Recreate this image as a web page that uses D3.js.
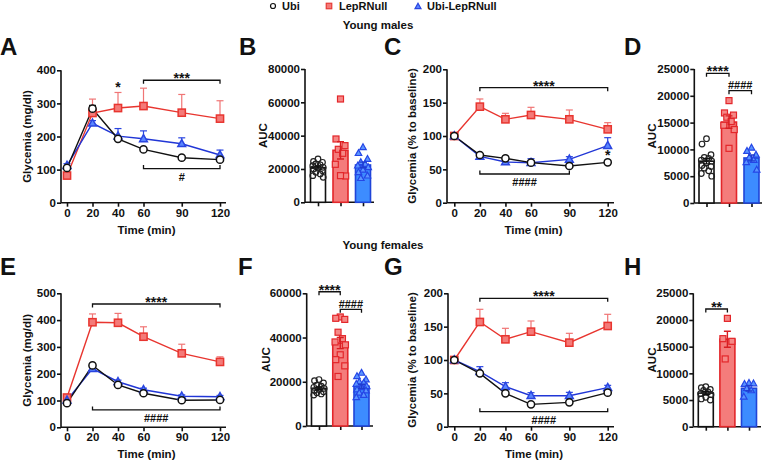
<!DOCTYPE html>
<html><head><meta charset="utf-8">
<script src="https://cdn.jsdelivr.net/npm/d3@7"></script>
<style>
body{margin:0;background:#fff}
svg text{font-family:"Liberation Sans",Arial,sans-serif;font-weight:bold;fill:#111}
</style>
</head><body>
<svg id="chart" width="764" height="461"></svg>
<script>
// ---------------- DATA ----------------
const timesMin = [0, 20, 40, 60, 90, 120];
const groupNames = ["Ubi", "LepRNull", "Ubi-LepRNull"];

// A: Young males, glycemia (mg/dl)
const A_ubi = [105, 284, 193, 161, 136, 130];
const A_ubi_sem = [4, 10, 5, 4, 4, 5];
const A_lep = [82, 271, 286, 292, 272, 254];
const A_lep_sem = [6, 42, 47, 54, 55, 54];
const A_ul = [112, 240, 201, 193, 178, 144];
const A_ul_sem = [6, 8, 23, 24, 18, 15];
const A_ticks = [0, 100, 200, 300, 400];

// B: Young males, AUC
const B_mean = [20800, 31200, 22400];
const B_sem = [900, 5200, 1700];
const B_ubi_pts = [26000, 24500, 24000, 23000, 22500, 22000, 21000, 20500, 20000, 19000, 18000, 17000, 16000, 15000];
const B_lep_pts = [62000, 38000, 34000, 31800, 29400, 22800, 15800, 16000];
const B_ul_pts = [33000, 29500, 26000, 24000, 23000, 22000, 21000, 19500, 18000, 16000, 14500];
const B_ticks = [0, 20000, 40000, 60000, 80000];

// C: Young males, glycemia (% to baseline)
const C_ubi = [100, 71.5, 66.5, 60, 55, 60.5];
const C_ubi_sem = [1, 2, 3, 3, 3, 3];
const C_lep = [100, 144, 125, 131.5, 125, 110];
const C_lep_sem = [1, 11.5, 9, 11.5, 14, 10];
const C_ul = [100, 69.5, 61, 60, 65, 85.5];
const C_ul_sem = [1, 2, 2, 6, 4, 12];
const C_ticks = [0, 50, 100, 150, 200];

// D: Young males, AUC (% to baseline)
const D_mean = [7800, 15100, 8400];
const D_sem = [500, 1150, 550];
const D_ubi_pts = [12000, 11000, 9000, 8500, 8300, 8000, 7800, 7500, 7000, 6800, 6500, 6000, 5500, 5000];
const D_lep_pts = [19100, 16800, 16400, 16000, 15200, 14500, 13700, 10200];
const D_ul_pts = [10300, 9700, 9000, 8500, 8000, 7600, 6200];
const D_ticks = [0, 5000, 10000, 15000, 20000, 25000];

// E: Young females, glycemia (mg/dl)
const E_ubi = [90, 231, 158, 127, 101, 102];
const E_ubi_sem = [3, 5, 4, 4, 3, 3];
const E_lep = [111, 392, 390, 338, 276, 244];
const E_lep_sem = [6, 31, 35, 37, 34, 19];
const E_ul = [101, 219, 170, 140, 116, 114];
const E_ul_sem = [3, 8, 6, 6, 5, 5];
const E_ticks = [0, 100, 200, 300, 400, 500];

// F: Young females, AUC
const F_mean = [17000, 37500, 18000];
const F_sem = [600, 2500, 900];
const F_ubi_pts = [21000, 20500, 19500, 18500, 18000, 17500, 17000, 16500, 16000, 15500, 15000, 14500, 14000];
const F_lep_pts = [49300, 48700, 48200, 42400, 39500, 38000, 36700, 32200, 30000, 27200, 22400];
const F_ul_pts = [24000, 22500, 21000, 20000, 19500, 19000, 18000, 17500, 16500, 16000, 15000, 14000, 13000];
const F_ticks = [0, 20000, 40000, 60000];

// G: Young females, glycemia (% to baseline)
const G_ubi = [100, 80, 50, 33.5, 36.5, 51];
const G_ubi_sem = [1, 2, 2, 2, 2, 3];
const G_lep = [100, 157, 131, 142.5, 126, 151];
const G_lep_sem = [1, 19, 16.5, 16, 14, 17.5];
const G_ul = [100, 82.5, 60, 46.5, 46.5, 58.5];
const G_ul_sem = [1, 7.5, 6, 4.5, 5, 3.5];
const G_ticks = [0, 50, 100, 150, 200];

// H: Young females, AUC (% to baseline)
const H_mean = [6300, 16400, 7200];
const H_sem = [300, 1500, 500];
const H_ubi_pts = [7500, 7300, 7000, 6800, 6500, 6200, 6000, 5500, 5200, 5000];
const H_lep_pts = [20300, 16500, 16000, 12700];
const H_ul_pts = [8200, 8000, 8100, 7200, 6800, 5600];
const H_ticks = [0, 5000, 10000, 15000, 20000, 25000];

// ---------------- STYLE ----------------
const svg = d3.select("#chart");
const ST = {
  ubi: {type: "circle", line: "#111", mFill: "#fff", mStroke: "#111", err: "#111",
        bFill: "#fff", bStroke: "#111", pFill: "none", pStroke: "#222", eb: "#111"},
  lep: {type: "square", line: "#e8352f", mFill: "#f47a78", mStroke: "#e8352f", err: "#f07575",
        bFill: "#f47c7b", bStroke: "#e3262a", pFill: "#f58886", pStroke: "#e3262a", eb: "#d81e22"},
  ul:  {type: "triangle", line: "#2136d6", mFill: "#5a86ff", mStroke: "#2a45e0", err: "#2a45e0",
        bFill: "#3d8cff", bStroke: "#1f44d8", pFill: "#5a95ff", pStroke: "#2546e6", eb: "#1f3cd0"}
};
const keys = ["ubi", "lep", "ul"];
const TICKFS = 11.5;

function marker(g, type, cx, cy, s, fill, stroke, sw) {
  if (type === "circle") {
    g.append("circle").attr("cx", cx).attr("cy", cy).attr("r", s / 2)
      .attr("fill", fill).attr("stroke", stroke).attr("stroke-width", sw);
  } else if (type === "square") {
    g.append("rect").attr("x", cx - s / 2).attr("y", cy - s / 2).attr("width", s).attr("height", s)
      .attr("fill", fill).attr("stroke", stroke).attr("stroke-width", sw);
  } else {
    const h = s * 0.9;
    g.append("path").attr("d", `M${cx},${cy - h * 0.6}L${cx + s / 2},${cy + h * 0.4}L${cx - s / 2},${cy + h * 0.4}Z`)
      .attr("fill", fill).attr("stroke", stroke).attr("stroke-width", sw).attr("stroke-linejoin", "miter");
  }
}

function styleAxis(ag) {
  ag.selectAll("path,line").attr("stroke", "#111").attr("stroke-width", 1.6);
  ag.selectAll("text").attr("font-size", TICKFS).attr("font-family", "Liberation Sans, Arial, sans-serif")
    .attr("font-weight", "bold").attr("fill", "#111");
  ag.attr("font-family", null).attr("font-size", null);
}

function bracket(g, x1, x2, yp, dir, label) {
  const t = dir === "down" ? 3.5 : -3.5;
  g.append("path").attr("d", `M${x1},${yp + t}V${yp}H${x2}V${yp + t}`)
    .attr("fill", "none").attr("stroke", "#111").attr("stroke-width", 1.3);
  const isStar = label.indexOf("*") >= 0;
  let ty;
  if (dir === "down") ty = isStar ? yp + 3 : yp - 1.5;
  else ty = yp + 12;
  g.append("text").attr("x", (x1 + x2) / 2).attr("y", ty).attr("text-anchor", "middle")
    .attr("font-size", isStar ? 14 : 11).text(label);
}

function yTitle(g, x, cy, txt) {
  g.append("text").attr("transform", `translate(${x},${cy}) rotate(-90)`)
    .attr("text-anchor", "middle").attr("dominant-baseline", "central")
    .attr("font-size", 11.5).text(txt);
}

function linePanel(cfg) {
  const g = svg.append("g");
  const x = d3.scaleLinear().domain([0, 120]).range([cfg.x0, cfg.x1]);
  const y = d3.scaleLinear().domain([0, cfg.ticks[cfg.ticks.length - 1]]).range([cfg.yBot, cfg.yTop]);
  const xg = g.append("g").attr("transform", `translate(0,${cfg.yBot})`)
    .call(d3.axisBottom(x).tickValues(timesMin).tickSize(4).tickPadding(2));
  xg.select(".domain").attr("d", `M${cfg.axisX},0H${cfg.xEnd}`);
  styleAxis(xg);
  const yg = g.append("g").attr("transform", `translate(${cfg.axisX},0)`)
    .call(d3.axisLeft(y).tickValues(cfg.ticks).tickSize(4).tickPadding(1).tickFormat(d3.format("d")));
  yg.select(".domain").attr("d", `M0,${cfg.yBot}V${cfg.yTop}`);
  styleAxis(yg);
  yTitle(g, cfg.titleX, (cfg.yBot + cfg.yTop) / 2, cfg.yLabel);
  g.append("text").attr("x", (cfg.axisX + cfg.xEnd) / 2 + 3).attr("y", cfg.yBot + 31)
    .attr("text-anchor", "middle").attr("font-size", 11.5).text("Time (min)");

  const order = ["lep", "ul", "ubi"];
  order.forEach(k => {
    const s = cfg.series[k], st = ST[k];
    timesMin.forEach((t, i) => {
      const xp = x(t), y0 = y(s.v[i]), y1 = y(s.v[i] + s.e[i]);
      g.append("line").attr("x1", xp).attr("x2", xp).attr("y1", y0).attr("y2", y1)
        .attr("stroke", st.err).attr("stroke-width", 1.2);
      g.append("line").attr("x1", xp - 3.5).attr("x2", xp + 3.5).attr("y1", y1).attr("y2", y1)
        .attr("stroke", st.err).attr("stroke-width", 1.2);
    });
  });
  order.forEach(k => {
    const s = cfg.series[k], st = ST[k];
    g.append("path").datum(s.v)
      .attr("d", d3.line().x((d, i) => x(timesMin[i])).y(d => y(d)))
      .attr("fill", "none").attr("stroke", st.line).attr("stroke-width", 1.4);
  });
  order.forEach(k => {
    const s = cfg.series[k], st = ST[k];
    s.v.forEach((d, i) => {
      const sz = st.type === "circle" ? 7.2 : (st.type === "square" ? 7.2 : 7.8);
      marker(g, st.type, x(timesMin[i]), y(d), sz, st.mFill, st.mStroke, 1.5);
    });
  });
  (cfg.brackets || []).forEach(b => bracket(g, x(b.from), x(b.to), y(b.y), b.dir, b.label));
  (cfg.stars || []).forEach(s => {
    g.append("text").attr("x", x(s.t)).attr("y", y(s.y) + 6).attr("text-anchor", "middle")
      .attr("font-size", 14).text(s.label);
  });
}

function barPanel(cfg) {
  const g = svg.append("g");
  const y = d3.scaleLinear().domain([0, cfg.ticks[cfg.ticks.length - 1]]).range([cfg.yBot, cfg.yTop]);
  const x = d3.scalePoint().domain(groupNames).range([cfg.c0, cfg.c2]);
  const bw = 15;
  const xg = g.append("g").attr("transform", `translate(0,${cfg.yBot})`)
    .call(d3.axisBottom(x).tickSize(4).tickFormat(""));
  xg.select(".domain").attr("d", `M${cfg.axisX},0H${cfg.xEnd}`);
  styleAxis(xg);
  keys.forEach((k, i) => {
    const st = ST[k], cx = x(groupNames[i]), m = cfg.mean[i];
    g.append("rect").attr("x", cx - bw / 2).attr("y", y(m)).attr("width", bw).attr("height", cfg.yBot - y(m))
      .attr("fill", st.bFill).attr("stroke", st.bStroke).attr("stroke-width", 1.6);
  });
  const offs = [0, -4.5, 4.5, -2.2, 2.2, -5.2, 5.2];
  keys.forEach((k, i) => {
    const st = ST[k], cx = x(groupNames[i]);
    cfg.pts[i].forEach((v, j) => {
      const sz = st.type === "circle" ? 5.6 : (st.type === "square" ? 6 : 6.5);
      marker(g, st.type, cx + offs[j % offs.length], y(v), sz, st.pFill, st.pStroke, 1.2);
    });
  });
  keys.forEach((k, i) => {
    const st = ST[k], cx = x(groupNames[i]), m = cfg.mean[i], e = cfg.sem[i];
    const y1 = y(m + e), y2 = y(m - e);
    g.append("path").attr("d", `M${cx},${y1}V${y2}M${cx - 3.5},${y1}H${cx + 3.5}M${cx - 3.5},${y2}H${cx + 3.5}`)
      .attr("stroke", st.eb).attr("stroke-width", 1.4).attr("fill", "none");
  });
  const yg = g.append("g").attr("transform", `translate(${cfg.axisX},0)`)
    .call(d3.axisLeft(y).tickValues(cfg.ticks).tickSize(4).tickPadding(1).tickFormat(d3.format("d")));
  yg.select(".domain").attr("d", `M0,${cfg.yBot}V${cfg.yTop}`);
  styleAxis(yg);
  yTitle(g, cfg.titleX, (cfg.yBot + cfg.yTop) / 2, "AUC");
  (cfg.brackets || []).forEach(b => bracket(g, x(groupNames[b.from]), x(groupNames[b.to]), y(b.y), "down", b.label));
}

// ---------------- PANELS ----------------
linePanel({axisX: 61, x0: 67, x1: 220, xEnd: 226, yTop: 70.3, yBot: 202.7, ticks: A_ticks,
  titleX: 27, yLabel: "Glycemia (mg/dl)",
  series: {ubi: {v: A_ubi, e: A_ubi_sem}, lep: {v: A_lep, e: A_lep_sem}, ul: {v: A_ul, e: A_ul_sem}},
  brackets: [{from: 60, to: 120, y: 370, dir: "down", label: "***"}, {from: 60, to: 120, y: 103, dir: "up", label: "#"}],
  stars: [{t: 40, y: 352, label: "*"}]});

barPanel({axisX: 305, c0: 318, c2: 363, xEnd: 374, yTop: 69, yBot: 202.3, ticks: B_ticks, titleX: 263,
  mean: B_mean, sem: B_sem, pts: [B_ubi_pts, B_lep_pts, B_ul_pts]});

linePanel({axisX: 447, x0: 454.3, x1: 607.7, xEnd: 614, yTop: 69.3, yBot: 202.7, ticks: C_ticks,
  titleX: 412, yLabel: "Glycemia (% to baseline)",
  series: {ubi: {v: C_ubi, e: C_ubi_sem}, lep: {v: C_lep, e: C_lep_sem}, ul: {v: C_ul, e: C_ul_sem}},
  brackets: [{from: 20, to: 120, y: 172.4, dir: "down", label: "****"}, {from: 20, to: 90, y: 43, dir: "up", label: "####"}],
  stars: [{t: 120, y: 73, label: "*"}]});

barPanel({axisX: 694.3, c0: 706.5, c2: 751.5, xEnd: 762, yTop: 69, yBot: 203, ticks: D_ticks, titleX: 652,
  mean: D_mean, sem: D_sem, pts: [D_ubi_pts, D_lep_pts, D_ul_pts],
  brackets: [{from: 0, to: 1, y: 24200, label: "****"}, {from: 1, to: 2, y: 20950, label: "####"}]});

linePanel({axisX: 61, x0: 67, x1: 220, xEnd: 226, yTop: 293.3, yBot: 427.3, ticks: E_ticks,
  titleX: 27, yLabel: "Glycemia (mg/dl)",
  series: {ubi: {v: E_ubi, e: E_ubi_sem}, lep: {v: E_lep, e: E_lep_sem}, ul: {v: E_ul, e: E_ul_sem}},
  brackets: [{from: 20, to: 120, y: 460, dir: "down", label: "****"}, {from: 20, to: 120, y: 65, dir: "up", label: "####"}]});

barPanel({axisX: 306.7, c0: 319, c2: 361.5, xEnd: 373, yTop: 293.3, yBot: 426, ticks: F_ticks, titleX: 266,
  mean: F_mean, sem: F_sem, pts: [F_ubi_pts, F_lep_pts, F_ul_pts],
  brackets: [{from: 0, to: 1, y: 60700, label: "****"}, {from: 1, to: 2, y: 52760, label: "####"}]});

linePanel({axisX: 448, x0: 454.3, x1: 607.7, xEnd: 614, yTop: 293.3, yBot: 426.7, ticks: G_ticks,
  titleX: 412, yLabel: "Glycemia (% to baseline)",
  series: {ubi: {v: G_ubi, e: G_ubi_sem}, lep: {v: G_lep, e: G_lep_sem}, ul: {v: G_ul, e: G_ul_sem}},
  brackets: [{from: 20, to: 120, y: 192.5, dir: "down", label: "****"}, {from: 20, to: 120, y: 22.5, dir: "up", label: "####"}]});

barPanel({axisX: 693.3, c0: 705.8, c2: 749, xEnd: 761, yTop: 293.3, yBot: 426.7, ticks: H_ticks, titleX: 652,
  mean: H_mean, sem: H_sem, pts: [H_ubi_pts, H_lep_pts, H_ul_pts],
  brackets: [{from: 0, to: 1, y: 22060, label: "**"}]});

// ---------------- LABELS ----------------
const letters = [["A", 0, 55], ["B", 239, 55], ["C", 384, 55], ["D", 624, 55],
                 ["E", 0, 275], ["F", 238, 275], ["G", 384, 275], ["H", 624, 275]];
letters.forEach(([t, x, y]) => svg.append("text").attr("x", x).attr("y", y).attr("font-size", 24).text(t));

svg.append("text").attr("x", 378).attr("y", 29).attr("text-anchor", "middle").attr("font-size", 11.5).text("Young males");
svg.append("text").attr("x", 383).attr("y", 249).attr("text-anchor", "middle").attr("font-size", 11.5).text("Young females");

// legend
const lg = svg.append("g");
marker(lg, "circle", 273, 6, 5, "#fff", "#111", 1.2);
lg.append("text").attr("x", 282).attr("y", 10).attr("font-size", 11).text(groupNames[0]);
marker(lg, "square", 329, 6, 5.5, "#f47a78", "#e63b36", 1.2);
lg.append("text").attr("x", 339).attr("y", 10).attr("font-size", 11).text(groupNames[1]);
marker(lg, "triangle", 418, 6.5, 6, "#5a86ff", "#2a45e0", 1.2);
lg.append("text").attr("x", 427).attr("y", 10).attr("font-size", 11).text(groupNames[2]);
</script>
</body></html>
